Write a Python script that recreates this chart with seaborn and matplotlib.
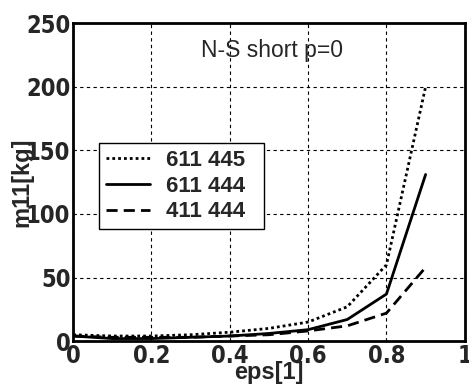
import pandas as pd
import numpy as np
import matplotlib
matplotlib.use("Agg")
import matplotlib.pyplot as plt
import seaborn as sns

# values
eps = [0.0, 0.1, 0.2, 0.3, 0.4, 0.5, 0.6, 0.7, 0.8, 0.9]
m_611445 = [5, 4, 4, 5, 7, 10, 15, 27, 60, 200]
m_611444 = [4, 2, 2, 3, 4, 6, 9, 17, 37, 131]
m_411444 = [4, 3, 3, 3, 4, 5, 8, 12, 22, 58]
labels = ["611 445", "611 444", "411 444"]

df = pd.DataFrame({
    "eps": eps * 3,
    "m11": m_611445 + m_611444 + m_411444,
    "case": [labels[0]] * len(eps) + [labels[1]] * len(eps) + [labels[2]] * len(eps),
})

sns.set_style("white")
plt.rcParams['font.family'] = ['Liberation Sans', 'DejaVu Sans']

fig = plt.figure(figsize=(4.69, 3.85), dpi=100)
ax = fig.add_axes([0.156, 0.114, 0.835, 0.826])

dash_map = {labels[0]: (1, 1.1), labels[1]: "", labels[2]: (4, 2.2)}
sns.lineplot(data=df, x="eps", y="m11", hue="case", style="case",
             palette=["black"] * 3, dashes=dash_map, linewidth=2, ax=ax)

ax.set_xlim(0, 1)
ax.set_ylim(0, 250)
ax.set_xticks(np.arange(0, 1.01, 0.2))
ax.set_xticklabels(["0", "0.2", "0.4", "0.6", "0.8", "1"])
ax.set_yticks(np.arange(0, 251, 50))
ax.grid(True, color="black", linestyle=(0, (3, 3)), linewidth=0.8)
ax.tick_params(direction="in", length=4, width=1.5, pad=2)
for lab in ax.get_xticklabels() + ax.get_yticklabels():
    lab.set_fontweight("bold")
    lab.set_fontsize(17)
    lab.set_family(['DejaVu Sans'])
    lab.set_fontstretch("condensed")
for s in ax.spines.values():
    s.set_linewidth(2)
    s.set_color("black")

ax.set_xlabel("eps[1]", fontsize=17, fontweight="bold", labelpad=-5)
ax.set_ylabel("m11[kg]", fontsize=17, fontweight="bold", labelpad=-5)
ax.text(0.508, 0.915, "N-S short p=0", transform=ax.transAxes, ha="center", va="center",
        fontsize=16.5)

leg = ax.legend(loc="upper left", bbox_to_anchor=(0.066, 0.352, 0.421, 0.271),
                mode="expand", borderaxespad=0,
                frameon=True, fancybox=False, edgecolor="black", framealpha=1,
                handlelength=2.0, handletextpad=0.7, borderpad=0.3, labelspacing=0.22,
                prop={"weight": "bold", "size": 16})
leg.get_frame().set_linewidth(1.0)

fig.savefig("out.png", dpi=100)
